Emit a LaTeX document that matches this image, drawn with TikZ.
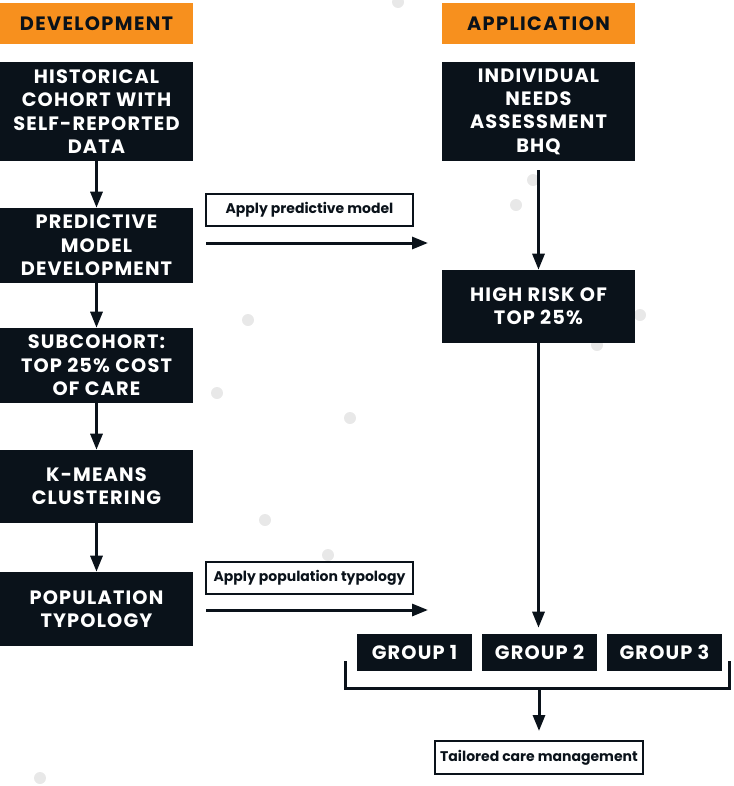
\documentclass[tikz,border=0pt]{standalone}
\usepackage{fontspec}
\setmainfont{Poppins}
\usetikzlibrary{arrows.meta,positioning}
\definecolor{ink}{RGB}{10,18,26}
\definecolor{tangerine}{RGB}{247,144,30}
\definecolor{speck}{RGB}{232,232,232}
\tikzset{
  banner/.style={
      fill=tangerine,
      text=ink,
      font=\bfseries\fontsize{14.5}{17}\selectfont\addfontfeature{LetterSpace=7},
      minimum width=144.75pt,
      minimum height=30.75pt,
      inner sep=0pt
  },
  stage/.style={
      fill=ink,
      text=white,
      align=center,
      font=\bfseries\fontsize{14.5}{17.5}\selectfont\addfontfeature{LetterSpace=6},
      minimum width=144.75pt,
      inner sep=0pt
  },
  cluster/.style={
      stage,
      minimum width=86.25pt,
      minimum height=27.75pt
  },
  tag/.style={
      draw=ink,
      line width=1.5pt,
      text=ink,
      font=\bfseries\fontsize{10.5}{12}\selectfont,
      minimum width=155.25pt,
      minimum height=23.5pt,
      inner sep=0pt
  },
  flow/.style={
      draw=ink,
      line width=2.25pt,
      -{Triangle[length=12pt,width=9pt]}
  }
}
\begin{document}
\begin{tikzpicture}[x=0.75pt,y=-0.75pt]
	\useasboundingbox (0,0) rectangle (733,786);
	\foreach \dx/\dy in {398/2,533/180,516/205,248/320,640/315,597/345,217/393,350/418,265/520,328/555,40/778}
		\fill[speck] (\dx,\dy) circle[radius=4.5pt];

	\node[banner] (dev) at (96.5,23.5) {DEVELOPMENT};
	\node[banner] (app) at (538.5,23.5) {APPLICATION};

	\node[stage, minimum height=74.25pt] (hist) at (96.5,111.5) {HISTORICAL\\COHORT WITH\\SELF-REPORTED\\DATA};
	\node[stage, minimum height=56.25pt] (pred) at (96.5,245.5) {PREDICTIVE\\MODEL\\DEVELOPMENT};
	\node[stage, minimum height=56.25pt] (sub) at (96.5,365.5) {SUBCOHORT:\\TOP 25\% COST\\OF CARE};
	\node[stage, minimum height=54.75pt] (kmeans) at (96.5,486.5) {K-MEANS\\CLUSTERING};
	\node[stage, minimum height=55.5pt] (typo) at (96.5,609) {POPULATION\\TYPOLOGY};

	\node[stage, minimum height=74.25pt] (needs) at (538.5,111.5) {INDIVIDUAL\\NEEDS\\ASSESSMENT\\BHQ};
	\node[stage, minimum height=54.75pt] (risk) at (538.5,306.5) {HIGH RISK OF\\TOP 25\%};

	\node[cluster] (g1) at (414.5,652.5) {GROUP 1};
	\node[cluster] (g2) at (539.5,652.5) {GROUP 2};
	\node[cluster] (g3) at (664.5,652.5) {GROUP 3};

	\node[tag] (applymodel) at (309.5,210) {Apply predictive model};
	\node[tag] (applytypo) at (309.5,578) {Apply population typology};
	\node[tag, minimum width=156pt, minimum height=24.75pt] (care) at (539,757.5) {Tailored care management};

	\coordinate (m0) at (206,243);
	\coordinate (m1) at (428,243);
	\coordinate (t0) at (206,610);
	\coordinate (t1) at (428,610);
	\coordinate (bl) at (345,661);
	\coordinate (br) at (729,661);
	\coordinate (bm) at (539,688);

	\draw[flow] (hist) -- (pred);
	\draw[flow] (pred) -- (sub);
	\draw[flow] (sub) -- (kmeans);
	\draw[flow] (kmeans) -- (typo);
	\draw[flow, shorten <=6.75pt] (needs) -- (risk);
	\draw[flow, shorten >=4.5pt] (risk) -- (risk |- g2.north);
	\draw[flow] (m0) -- (m1);
	\draw[flow] (t0) -- (t1);
	\draw[ink, line width=2.25pt] (bl) |- (bm) -| (br);
	\draw[flow, shorten >=6.75pt] (bm) -- (care);
\end{tikzpicture}
\end{document}
